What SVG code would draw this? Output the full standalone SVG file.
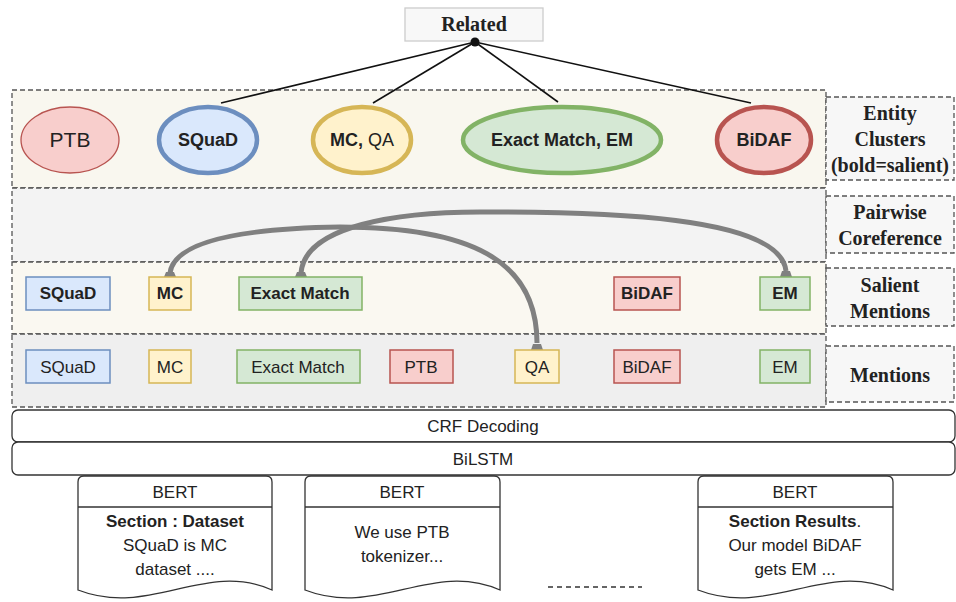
<svg xmlns="http://www.w3.org/2000/svg" width="956" height="602" viewBox="0 0 956 602">
<defs>
<style>
.band{stroke:#555;stroke-width:1.3;stroke-dasharray:5 3}
.lab{fill:#f7f7f7;stroke:#555;stroke-width:1.3;stroke-dasharray:5 3}
.lt{font-family:"Liberation Serif",serif;font-weight:bold;font-size:20px;fill:#222;text-anchor:middle}
.t{font-family:"Liberation Sans",Arial,sans-serif;font-size:17px;fill:#222;text-anchor:middle}
.ct{font-size:18px}
.b{font-weight:bold}
.blue{fill:#dae8fc;stroke:#6c8ebf}
.yel{fill:#fff2cc;stroke:#d6b656}
.grn{fill:#d5e8d4;stroke:#82b366}
.red{fill:#f8cecc;stroke:#b85450}
.box{stroke-width:1.5}
.rel{stroke:#111;stroke-width:1.6;fill:none}
.coref{stroke:#808080;stroke-width:5;fill:none}
.tip{fill:#808080}
.lay{fill:#fff;stroke:#333;stroke-width:1.3}
</style>
</defs>

<!-- bands -->
<g id="band-entity"><rect class="band" x="12" y="90" width="814" height="98" fill="#f9f7ef"/></g>
<g id="band-pairwise"><rect class="band" x="12" y="188" width="814" height="74" fill="#f3f3f3"/></g>
<g id="band-salient"><rect class="band" x="12" y="262" width="814" height="72" fill="#faf8f1"/></g>
<g id="band-mentions"><rect class="band" x="12" y="334" width="814" height="73" fill="#efefef"/></g>

<!-- right labels -->
<g id="label-entity"><rect class="lab" x="826" y="97" width="128" height="83"/>
<text class="lt" x="890" y="120">Entity</text><text class="lt" x="890" y="146">Clusters</text><text class="lt" x="890" y="172">(bold=salient)</text></g>
<g id="label-pairwise"><rect class="lab" x="826" y="196" width="128" height="57"/>
<text class="lt" x="890" y="219">Pairwise</text><text class="lt" x="890" y="245">Coreference</text></g>
<g id="label-salient"><rect class="lab" x="826" y="268" width="128" height="58"/>
<text class="lt" x="890" y="292">Salient</text><text class="lt" x="890" y="318">Mentions</text></g>
<g id="label-mentions"><rect class="lab" x="826" y="346" width="128" height="56"/>
<text class="lt" x="890" y="382">Mentions</text></g>

<!-- related -->
<g id="related"><rect x="405" y="8" width="138" height="33" fill="#f8f8f8" stroke="#ccc" stroke-width="1.3"/>
<text class="lt" x="474" y="31">Related</text></g>

<!-- connectors -->
<g id="connectors">
<path class="rel" d="M475,42 L221,103"/>
<path class="rel" d="M475,42 L373,103"/>
<path class="rel" d="M475,42 L558,102"/>
<path class="rel" d="M475,42 L751,103"/>
<circle cx="475" cy="42" r="4.5" fill="#111"/>
<path class="coref" d="M170,273 C175,235 270,228 340,227 C470,227 537,260 537,343"/>
<path class="coref" d="M301,273 C305,225 400,212 480,212 C600,212 780,215 786,271"/>
<path class="tip" d="M164,277 L166,272 L174,272 L176,277 Z"/>
<path class="tip" d="M295,277 L297,272 L305,272 L307,277 Z"/>
<path class="tip" d="M531,350 L533,344 L541,344 L543,350 Z"/>
<path class="tip" d="M780,277 L782,271 L790,271 L792,277 Z"/>
</g>

<!-- clusters -->
<g id="c-ptb"><ellipse class="red" cx="70" cy="140" rx="49" ry="33" stroke-width="1.3"/><text class="t" x="70" y="147" style="font-size:21px">PTB</text></g>
<g id="c-squad"><ellipse class="blue" cx="208" cy="140" rx="49" ry="33" stroke-width="4.5"/><text class="t ct b" x="208" y="146">SQuaD</text></g>
<g id="c-mcqa"><ellipse class="yel" cx="362" cy="140" rx="49" ry="33" stroke-width="4.5"/><text class="t ct" x="362" y="146"><tspan class="b">MC,</tspan> QA</text></g>
<g id="c-em"><ellipse class="grn" cx="562" cy="140" rx="99" ry="33" stroke-width="4.5"/><text class="t ct b" x="562" y="146">Exact Match, EM</text></g>
<g id="c-bidaf"><ellipse class="red" cx="764" cy="140" rx="47" ry="33" stroke-width="4.5"/><text class="t ct b" x="764" y="146">BiDAF</text></g>

<!-- salient mentions -->
<g id="s-squad"><rect class="blue box" x="26" y="277" width="84" height="33"/><text class="t b" x="68" y="299">SQuaD</text></g>
<g id="s-mc"><rect class="yel box" x="149" y="277" width="42" height="33"/><text class="t b" x="170" y="299">MC</text></g>
<g id="s-exact"><rect class="grn box" x="239" y="277" width="123" height="33"/><text class="t b" x="300" y="299">Exact Match</text></g>
<g id="s-bidaf"><rect class="red box" x="614" y="277" width="66" height="33"/><text class="t b" x="647" y="299">BiDAF</text></g>
<g id="s-em"><rect class="grn box" x="760" y="277" width="50" height="33"/><text class="t b" x="785" y="299">EM</text></g>

<!-- mentions -->
<g id="m-squad"><rect class="blue box" x="26" y="350" width="84" height="33"/><text class="t" x="68" y="373">SQuaD</text></g>
<g id="m-mc"><rect class="yel box" x="149" y="350" width="42" height="33"/><text class="t" x="170" y="373">MC</text></g>
<g id="m-exact"><rect class="grn box" x="237" y="350" width="123" height="33"/><text class="t" x="298" y="373">Exact Match</text></g>
<g id="m-ptb"><rect class="red box" x="390" y="350" width="63" height="33"/><text class="t" x="421" y="373">PTB</text></g>
<g id="m-qa"><rect class="yel box" x="515" y="350" width="44" height="33"/><text class="t" x="537" y="373">QA</text></g>
<g id="m-bidaf"><rect class="red box" x="614" y="350" width="66" height="33"/><text class="t" x="647" y="373">BiDAF</text></g>
<g id="m-em"><rect class="grn box" x="760" y="350" width="50" height="33"/><text class="t" x="785" y="373">EM</text></g>

<!-- layers -->
<g id="crf"><rect class="lay" x="12" y="410" width="943" height="32" rx="6"/><text class="t" x="483" y="432">CRF Decoding</text></g>
<g id="bilstm"><rect class="lay" x="12" y="442" width="943" height="33" rx="6"/><text class="t" x="483" y="465">BiLSTM</text></g>

<!-- documents -->
<g id="doc1">
<path class="lay" d="M78,590 L78,482 Q78,476 84,476 L266,476 Q272,476 272,482 L272,590 C205,560 150,618 78,590 Z"/>
<line x1="78" y1="507" x2="272" y2="507" stroke="#333" stroke-width="1.3"/>
<text class="t" x="175" y="498">BERT</text>
<text class="t b" x="175" y="527">Section : Dataset</text>
<text class="t" x="175" y="551">SQuaD is MC</text>
<text class="t" x="175" y="575">dataset ....</text>
</g>
<g id="doc2">
<path class="lay" d="M305,590 L305,482 Q305,476 311,476 L494,476 Q500,476 500,482 L500,590 C432,560 377,618 305,590 Z"/>
<line x1="305" y1="507" x2="500" y2="507" stroke="#333" stroke-width="1.3"/>
<text class="t" x="402" y="498">BERT</text>
<text class="t" x="402" y="538">We use PTB</text>
<text class="t" x="402" y="562">tokenizer...</text>
</g>
<g id="doc3">
<path class="lay" d="M698,590 L698,482 Q698,476 704,476 L887,476 Q893,476 893,482 L893,590 C825,560 770,618 698,590 Z"/>
<line x1="698" y1="507" x2="893" y2="507" stroke="#333" stroke-width="1.3"/>
<text class="t" x="795" y="498">BERT</text>
<text class="t" x="795" y="527"><tspan class="b">Section Results</tspan>.</text>
<text class="t" x="795" y="551">Our model BiDAF</text>
<text class="t" x="795" y="575">gets EM ...</text>
</g>
<g id="ellipsis"><line x1="548" y1="587" x2="642" y2="587" stroke="#333" stroke-width="1.3" stroke-dasharray="5 4"/></g>
</svg>
